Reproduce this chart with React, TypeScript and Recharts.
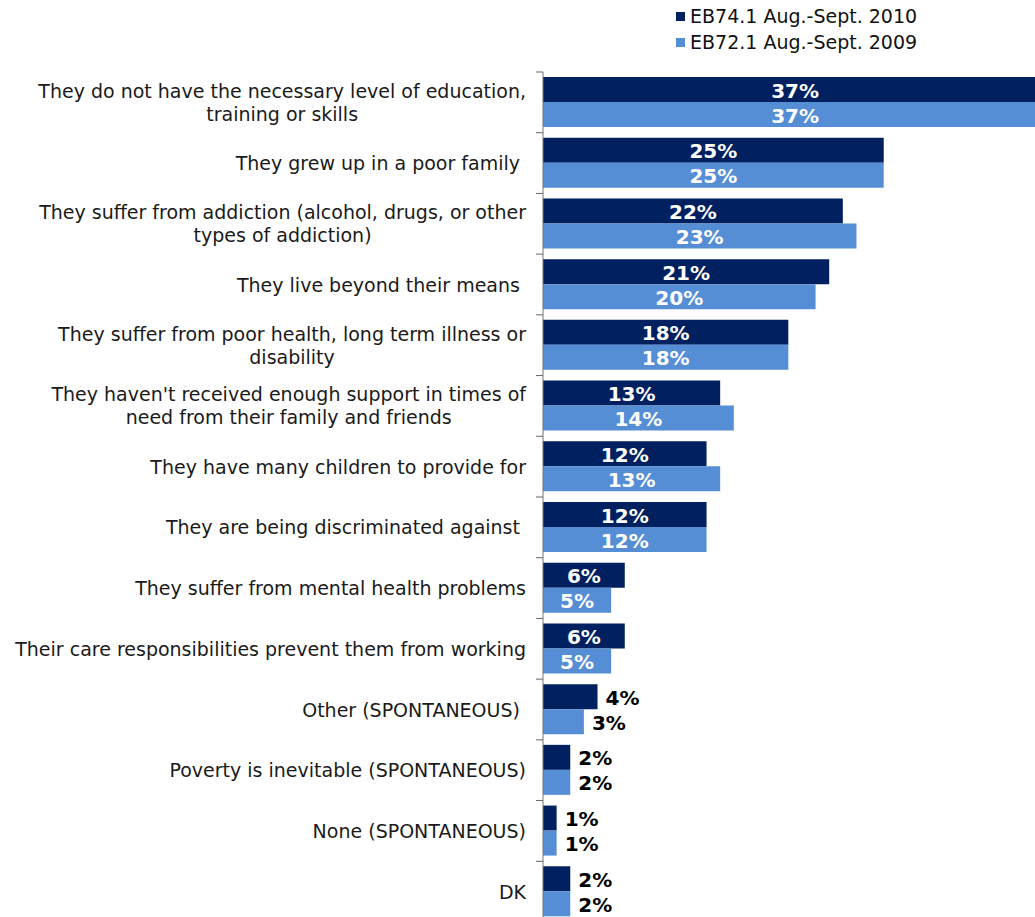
import { BarChart, Bar, XAxis, YAxis, LabelList } from 'recharts'

// Survey answers, top to bottom ("\n" = line break in the axis label)
const categories = [
  'They do not have the necessary level of education,\ntraining or skills',
  'They grew up in a poor family ',
  'They suffer from addiction (alcohol, drugs, or other\ntypes of addiction)',
  'They live beyond their means ',
  'They suffer from poor health, long term illness or\ndisability',
  "They haven't received enough support in times of\nneed from their family and friends",
  'They have many children to provide for',
  'They are being discriminated against ',
  'They suffer from mental health problems',
  'Their care responsibilities prevent them from working',
  'Other (SPONTANEOUS) ',
  'Poverty is inevitable (SPONTANEOUS)',
  'None (SPONTANEOUS)',
  'DK',
]

const wave2010 = [37, 25, 22, 21, 18, 13, 12, 12, 6, 6, 4, 2, 1, 2]
const wave2009 = [37, 25, 23, 20, 18, 14, 13, 12, 5, 5, 3, 2, 1, 2]

const seriesNames = ['EB74.1 Aug.-Sept. 2010', 'EB72.1 Aug.-Sept. 2009']
const seriesColors = ['#002060', '#558ED5']

const data = categories.map((c, i) => ({ name: c, a: wave2010[i], b: wave2009[i] }))

const FONT = "'DejaVu Sans', Verdana, sans-serif"
const W = 1035
const H = 922
const TOP = 72
const AXIS_W = 543
const BAND = (H - TOP) / categories.length

let ctx: CanvasRenderingContext2D | null = null
function textWidth(s: string, font: string) {
  if (!ctx) ctx = document.createElement('canvas').getContext('2d')
  if (!ctx) return s.length * 10
  ctx.font = font
  return ctx.measureText(s).width
}

const CategoryTick = ({ y, payload }: any) => {
  const lines = String(payload.value).split('\n')
  const maxW = Math.max(...lines.map((l) => textWidth(l, `19px ${FONT}`)))
  const cx = AXIS_W - 17 - maxW / 2
  const lh = 23
  const y0 = y - ((lines.length - 1) * lh) / 2
  return (
    <g>
      <line x1={AXIS_W - 7} x2={AXIS_W} y1={y - BAND / 2} y2={y - BAND / 2} stroke="#666" />
      <text
        x={cx}
        y={y0}
        textAnchor="middle"
        fontSize={19}
        fontFamily={FONT}
        fill="#1a1a1a"
        style={{ whiteSpace: 'pre' }}
      >
        {lines.map((l, i) => (
          <tspan key={i} x={cx} y={y0 + i * lh} dominantBaseline="central">
            {l}
          </tspan>
        ))}
      </text>
    </g>
  )
}

const ValueLabel = ({ x, y, width, height, value }: any) => {
  const inside = value >= 5
  return (
    <text
      x={inside ? x + width / 2 : x + width + 8}
      y={y + height / 2 + 1}
      textAnchor={inside ? 'middle' : 'start'}
      dominantBaseline="central"
      fontSize={20}
      fontWeight="bold"
      fontFamily={FONT}
      fill={inside ? '#fff' : '#000'}
    >
      {`${value}%`}
    </text>
  )
}

const LegendBox = () => (
  <div style={{ position: 'absolute', top: 3, left: 676, fontFamily: FONT, fontSize: 19, color: '#111' }}>
    {seriesNames.map((n, i) => (
      <div key={n} style={{ display: 'flex', alignItems: 'center', height: 26 }}>
        <span
          style={{ width: 9, height: 9, background: seriesColors[i], marginRight: 5, display: 'inline-block' }}
        />
        {n}
      </div>
    ))}
  </div>
)

export default function App() {
  return (
    <div style={{ position: 'relative', width: W, height: 917, overflow: 'hidden', background: '#fff' }}>
      <style>{'body{margin:0}'}</style>
      <BarChart
        width={W}
        height={H}
        data={data}
        layout="vertical"
        margin={{ top: TOP, right: 0, bottom: 0, left: 0 }}
        barSize={25}
        barGap={0}
      >
        <XAxis type="number" domain={[0, 36.1]} allowDataOverflow hide />
        <YAxis
          type="category"
          dataKey="name"
          width={AXIS_W}
          axisLine={{ stroke: '#777' }}
          tickLine={false}
          tickSize={0}
          tick={<CategoryTick />}
          interval={0}
        />
        <Bar dataKey="a" name={seriesNames[0]} fill={seriesColors[0]} isAnimationActive={false}>
          <LabelList dataKey="a" content={<ValueLabel />} />
        </Bar>
        <Bar dataKey="b" name={seriesNames[1]} fill={seriesColors[1]} isAnimationActive={false}>
          <LabelList dataKey="b" content={<ValueLabel />} />
        </Bar>
      </BarChart>
      <LegendBox />
    </div>
  )
}
